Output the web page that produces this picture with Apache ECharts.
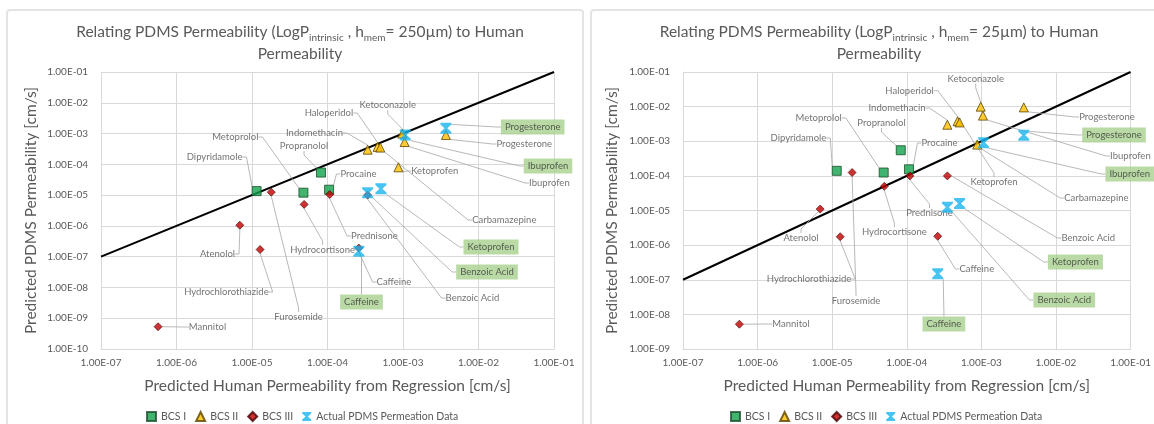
<!DOCTYPE html>
<html>
<head>
<meta charset="utf-8">
<script src="https://cdn.jsdelivr.net/npm/echarts@6/dist/echarts.min.js"></script>
<style>html,body{margin:0;padding:0;background:#fff;}#c{width:1154px;height:424px;}</style>
</head>
<body>
<div id="c"></div>
<script>
// ---------- DATA ----------
const xTickLabels = ['1.00E-07','1.00E-06','1.00E-05','1.00E-04','1.00E-03','1.00E-02','1.00E-01'];
const leftYTickLabels = ['1.00E-10','1.00E-09','1.00E-08','1.00E-07','1.00E-06','1.00E-05','1.00E-04','1.00E-03','1.00E-02','1.00E-01'];
const rightYTickLabels = ['1.00E-09','1.00E-08','1.00E-07','1.00E-06','1.00E-05','1.00E-04','1.00E-03','1.00E-02','1.00E-01'];
const seriesNames = ['BCS I','BCS II','BCS III','Actual PDMS Permeation Data'];

const bcs1Names = ['Dipyridamole','Metoprolol','Propranolol','Procaine'];
const bcs2Names = ['Indomethacin','Haloperidol','Carbamazepine','Ketoconazole','Ibuprofen','Ketoprofen','Progesterone'];
const bcs3Names = ['Atenolol','Hydrochlorothiazide','Furosemide','Hydrocortisone','Prednisone','Benzoic Acid','Caffeine','Mannitol'];
const actualNames = ['Progesterone','Ibuprofen','Ketoprofen','Benzoic Acid','Caffeine'];

// left panel: h_mem = 250 µm  ([human, PDMS] in cm/s)
const leftBcs1 = [[1.15e-5,1.35e-5],[4.8e-5,1.2e-5],[8.2e-5,5.4e-5],[1.05e-4,1.5e-5]];
const leftBcs2 = [[3.4e-4,3.0e-4],[4.6e-4,3.7e-4],[5.0e-4,3.5e-4],[9.8e-4,1.0e-3],[1.05e-3,5.3e-4],[8.7e-4,8.0e-5],[3.7e-3,9.0e-4]];
const leftBcs3 = [[6.9e-6,1.05e-6],[1.28e-5,1.7e-7],[1.8e-5,1.25e-5],[4.9e-5,5.0e-6],[1.07e-4,1.05e-5],[3.4e-4,1.0e-5],[2.6e-4,1.9e-7],[5.7e-7,5.3e-10]];
const leftActual = [[3.7e-3,1.5e-3],[1.07e-3,8.9e-4],[5.1e-4,1.6e-5],[3.4e-4,1.2e-5],[2.6e-4,1.5e-7]];

// right panel: h_mem = 25 µm
const rightBcs1 = [[1.15e-5,1.4e-4],[4.9e-5,1.25e-4],[8.3e-5,5.5e-4],[1.07e-4,1.55e-4]];
const rightBcs2 = [[3.5e-4,3.0e-3],[4.8e-4,3.8e-3],[8.8e-4,8.0e-4],[9.8e-4,1.0e-2],[1.05e-3,5.5e-3],[5.1e-4,3.5e-3],[3.7e-3,9.5e-3]];
const rightBcs3 = [[6.9e-6,1.1e-5],[1.28e-5,1.75e-6],[1.85e-5,1.25e-4],[5.0e-5,5.0e-5],[1.1e-4,1.0e-4],[3.5e-4,1.0e-4],[2.6e-4,1.8e-6],[5.7e-7,5.2e-9]];
const rightActual = [[3.7e-3,1.5e-3],[1.07e-3,9.0e-4],[5.1e-4,1.6e-5],[3.5e-4,1.25e-5],[2.6e-4,1.5e-7]];

const identityLine = [[1e-7,1e-7],[1e-1,1e-1]];

// ---------- LAYOUT (label anchor positions, px) ----------
const leftLabelPos = {
  bcs1: [[214.6,157],[235.3,137],[304,146],[358.5,174]],
  bcs2: [[314.5,133],[329,113],[504.3,220],[387.7,105],[549.4,183],[434.7,171],[524.3,144]],
  bcs3: [[217.5,254],[226.4,292],[298.6,317],[322.6,250],[374.4,236],[472.4,298],[394,282],[207.5,327]],
  actual: [[532.7,127],[548,166],[491,247],[487,272],[361.5,302]]
};
const rightLabelPos = {
  bcs1: [[798.4,138],[818.7,118],[881.5,123],[939.5,143]],
  bcs2: [[897,108],[909.6,90.7],[1096.4,198],[975.7,78.7],[1130.4,156],[994,182],[1107,117]],
  bcs3: [[801,238],[809,279],[856,301],[894.4,232],[929.5,213],[1088.3,238],[976.8,269],[791,324]],
  actual: [[1114,135],[1129.7,174],[1075.4,262],[1064.3,300],[943.9,324]]
};

const FONT = 'Lato';
const GRAY = '#595959';
const xShape = 'path://M0,0L10,0L10,1.6L6.3,5L10,8.4L10,10L0,10L0,8.4L3.7,5L0,1.6Z';

function items(names, vals){ return names.map((n,i)=>({name:n, value:vals[i]})); }
function layoutFn(pos){ return (p)=>{ const q = pos[p.dataIndex]; return {x:q[0], y:q[1], align:'center', verticalAlign:'middle'}; }; }
const labelLine = {show:true, length2:4, lineStyle:{color:'#a6a6a6', width:0.8}};
const plainLabel = {show:true, formatter:'{b}', fontFamily:FONT, fontSize:9.5, color:'#505050'};
const greenLabel = {show:true, formatter:'{b}', fontFamily:FONT, fontSize:9.5, color:'#3a3a3a', backgroundColor:'#a9d18e', padding:[3,4,2,4]};

function panelSeries(idx, b1, b2, b3, act, pos){
  return [
    {name:'identity', type:'line', xAxisIndex:idx, yAxisIndex:idx, data:identityLine, symbol:'none', lineStyle:{color:'#000', width:2}, z:1, silent:true},
    {name:seriesNames[0], type:'scatter', xAxisIndex:idx, yAxisIndex:idx, data:items(bcs1Names,b1), symbol:'rect', symbolSize:9,
      itemStyle:{color:'#12a24c', borderColor:'#1c4d2b', borderWidth:1}, label:plainLabel, labelLine:labelLine, labelLayout:layoutFn(pos.bcs1), z:3},
    {name:seriesNames[1], type:'scatter', xAxisIndex:idx, yAxisIndex:idx, data:items(bcs2Names,b2), symbol:'triangle', symbolSize:9,
      itemStyle:{color:'#ffc000', borderColor:'#5a4300', borderWidth:1}, label:plainLabel, labelLine:labelLine, labelLayout:layoutFn(pos.bcs2), z:3},
    {name:seriesNames[2], type:'scatter', xAxisIndex:idx, yAxisIndex:idx, data:items(bcs3Names,b3), symbol:'diamond', symbolSize:8,
      itemStyle:{color:'#c00000', borderColor:'#4a0000', borderWidth:0.8}, label:plainLabel, labelLine:labelLine, labelLayout:layoutFn(pos.bcs3), z:3},
    {name:seriesNames[3], type:'scatter', xAxisIndex:idx, yAxisIndex:idx, data:items(actualNames,act), symbol:xShape, symbolSize:11,
      itemStyle:{color:'#19b4ef'}, label:greenLabel, labelLine:labelLine, labelLayout:layoutFn(pos.actual), z:4}
  ];
}

function xAxisCfg(idx){
  return {type:'log', logBase:10, gridIndex:idx, min:1e-7, max:1e-1, splitNumber:6,
    name:'Predicted Human Permeability from Regression [cm/s]', nameLocation:'middle', nameGap:29,
    nameTextStyle:{fontFamily:FONT, fontSize:15.5, color:GRAY},
    axisLine:{show:true, lineStyle:{color:'#d9d9d9'}}, axisTick:{show:false},
    axisLabel:{fontFamily:FONT, fontSize:10, color:GRAY, margin:9,
      formatter:(v)=>xTickLabels[Math.round(Math.log10(v))+7]},
    splitLine:{show:true, lineStyle:{color:'#d9d9d9', width:1}}, minorTick:{show:false}};
}
function yAxisCfg(idx, minExp, labels, gap){
  return {type:'log', logBase:10, gridIndex:idx, min:Math.pow(10,minExp), max:1e-1, splitNumber:labels.length-1,
    name:'Predicted PDMS Permeability [cm/s]', nameLocation:'middle', nameGap:gap,
    nameTextStyle:{fontFamily:FONT, fontSize:15.5, color:GRAY},
    axisLine:{show:true, lineStyle:{color:'#d9d9d9'}}, axisTick:{show:false},
    axisLabel:{fontFamily:FONT, fontSize:10, color:GRAY, margin:13,
      formatter:(v)=>labels[Math.round(Math.log10(v))-minExp]},
    splitLine:{show:true, lineStyle:{color:'#d9d9d9', width:1}}};
}

const titleRich = {
  a:{fontFamily:FONT, fontSize:15.5, fontWeight:'normal', color:GRAY, lineHeight:22},
  s:{fontFamily:FONT, fontSize:10, fontWeight:'normal', color:GRAY, lineHeight:13, verticalAlign:'bottom'}
};

const legendCfg = (left)=>({left:left, top:406, data:seriesNames, itemWidth:9, itemHeight:9, itemGap:9,
  textStyle:{fontFamily:FONT, fontSize:10.5, color:GRAY}});

const option = {
  animation:false,
  backgroundColor:'#fff',
  title:[
    {left:295, top:16, textAlign:'center', text:'{a|Relating PDMS Permeability (LogP}{s|intrinsic}{a| , h}{s|mem}{a|= 250µm) to Human}\n{a|Permeability}', textStyle:{fontWeight:'normal', rich:titleRich}},
    {left:874, top:16, textAlign:'center', text:'{a|Relating PDMS Permeability (LogP}{s|intrinsic}{a| , h}{s|mem}{a|= 25µm) to Human}\n{a|Permeability}', textStyle:{fontWeight:'normal', rich:titleRich}}
  ],
  legend:[legendCfg(141), legendCfg(725)],
  grid:[
    {left:101, top:72, width:453, height:277},
    {left:683, top:72, width:454, height:277}
  ],
  xAxis:[xAxisCfg(0), xAxisCfg(1)],
  yAxis:[yAxisCfg(0,-10,leftYTickLabels,62), yAxisCfg(1,-9,rightYTickLabels,63)],
  graphic:[
    {type:'rect', shape:{x:7, y:10, width:576, height:440, r:3}, style:{fill:'none', stroke:'#e4e4e4', lineWidth:2}, silent:true, z:-1},
    {type:'rect', shape:{x:591, y:10, width:576, height:440, r:3}, style:{fill:'none', stroke:'#e4e4e4', lineWidth:2}, silent:true, z:-1}
  ],
  series:[].concat(
    panelSeries(0, leftBcs1, leftBcs2, leftBcs3, leftActual, leftLabelPos),
    panelSeries(1, rightBcs1, rightBcs2, rightBcs3, rightActual, rightLabelPos)
  )
};

const chart = echarts.init(document.getElementById('c'), null, {renderer:'canvas'});
chart.setOption(option);
</script>
</body>
</html>
